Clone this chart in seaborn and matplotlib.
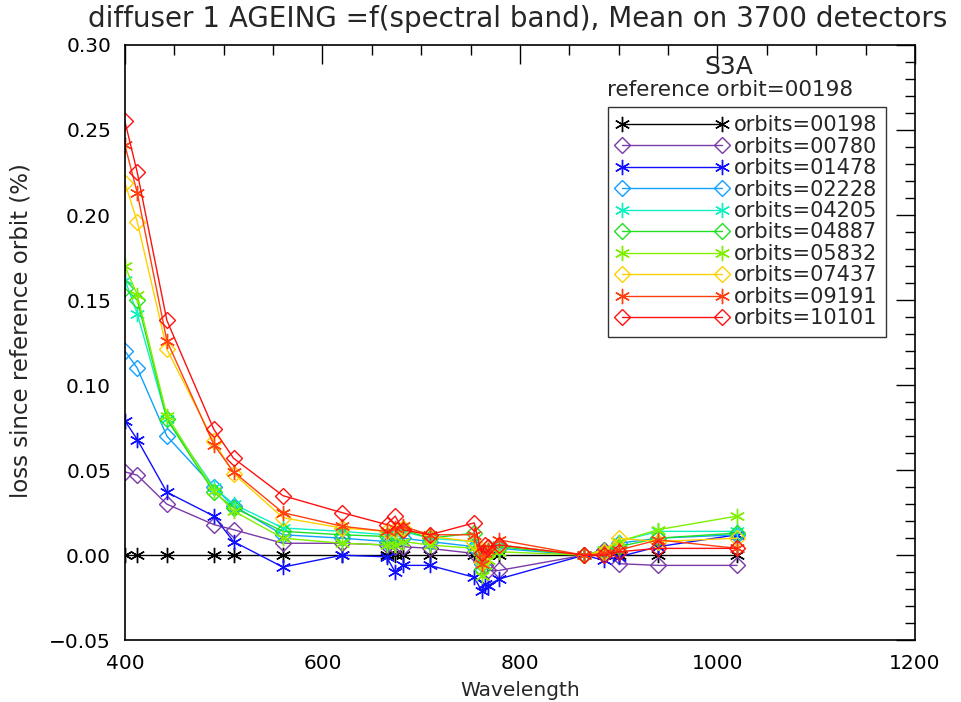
import numpy as np
import pandas as pd
import seaborn as sns
import matplotlib
matplotlib.use("Agg")
import matplotlib.pyplot as plt
from matplotlib.ticker import MultipleLocator, FuncFormatter

wavelengths = [400, 412.5, 442.5, 490, 510, 560, 620, 665, 673.75, 681.25, 708.75,
               753.75, 761.25, 764.375, 767.5, 778.75, 865, 885, 900, 940, 1020]

orbits = ["00198", "00780", "01478", "02228", "04205", "04887", "05832", "07437", "09191", "10101"]

loss_00198 = [0.0] * 21
loss_00780 = [0.049, 0.047, 0.030, 0.018, 0.015, 0.007, 0.007, 0.006, 0.005, 0.005, 0.004,
              0.001, -0.004, -0.006, -0.009, -0.009, 0.0, 0.003, -0.005, -0.006, -0.006]
loss_01478 = [0.079, 0.068, 0.037, 0.023, 0.008, -0.007, 0.0, -0.001, -0.010, -0.006, -0.006,
              -0.013, -0.021, -0.017, -0.018, -0.014, 0.0, -0.003, -0.001, 0.005, 0.012]
loss_02228 = [0.120, 0.110, 0.070, 0.040, 0.029, 0.012, 0.010, 0.008, 0.009, 0.010, 0.008,
              0.005, -0.005, 0.000, 0.002, 0.004, 0.0, 0.002, 0.007, 0.010, 0.012]
loss_04205 = [0.162, 0.142, 0.080, 0.040, 0.030, 0.016, 0.014, 0.012, 0.013, 0.014, 0.010,
              0.008, -0.006, 0.001, 0.003, 0.006, 0.0, 0.003, 0.008, 0.014, 0.014]
loss_04887 = [0.157, 0.150, 0.080, 0.037, 0.028, 0.014, 0.012, 0.011, 0.012, 0.015, 0.010,
              0.013, -0.008, 0.000, 0.002, 0.005, 0.0, 0.002, 0.005, 0.010, 0.013]
loss_05832 = [0.170, 0.153, 0.082, 0.038, 0.026, 0.010, 0.007, 0.006, 0.006, 0.008, 0.006,
              0.004, -0.012, -0.006, -0.003, 0.002, 0.0, 0.003, 0.008, 0.015, 0.023]
loss_07437 = [0.219, 0.196, 0.121, 0.067, 0.048, 0.022, 0.016, 0.014, 0.015, 0.016, 0.011,
              0.008, -0.004, 0.002, 0.004, 0.006, 0.0, 0.002, 0.010, 0.008, 0.010]
loss_09191 = [0.241, 0.213, 0.126, 0.065, 0.049, 0.025, 0.017, 0.014, 0.016, 0.017, 0.012,
              0.012, -0.005, 0.001, 0.003, 0.009, 0.0, 0.001, 0.003, 0.009, 0.004]
loss_10101 = [0.255, 0.225, 0.138, 0.074, 0.057, 0.035, 0.025, 0.018, 0.023, 0.015, 0.012,
              0.019, 0.001, 0.006, 0.005, 0.006, 0.0, 0.000, 0.002, 0.004, 0.004]

series = [loss_00198, loss_00780, loss_01478, loss_02228, loss_04205,
          loss_04887, loss_05832, loss_07437, loss_09191, loss_10101]

colors = ["#000000", "#7a3aa8", "#1010ff", "#10a0ff", "#10f0c0",
          "#20e020", "#80f000", "#ffd000", "#ff4010", "#ff1010"]
asterisk = (6, 2, 0)
markers = [asterisk, "D"] * 5

sns.set_style("white")
plt.rcParams["font.family"] = ["DejaVu Sans"]

fig = plt.figure(figsize=(9.61, 7.02), dpi=100)
ax = fig.add_axes([0.130, 0.088, 0.822, 0.848])

handles = []
for orb, vals, col, mk in zip(orbits, series, colors, markers):
    df = pd.DataFrame({"Wavelength": wavelengths, "loss": vals})
    n_before = len(ax.lines)
    sns.lineplot(data=df, x="Wavelength", y="loss", ax=ax, color=col, lw=1.0,
                 marker=mk, markersize=11 if mk != "D" else 8,
                 markerfacecolor="none" if mk == "D" else col,
                 markeredgecolor=col, markeredgewidth=1.0,
                 sort=False, estimator=None, legend=False)
    line = ax.lines[n_before]
    line.set_label(f"orbits={orb}")
    handles.append(line)

ax.set_xlim(400, 1200)
ax.set_ylim(-0.05, 0.30)
ax.xaxis.set_major_locator(MultipleLocator(200))
ax.xaxis.set_minor_locator(MultipleLocator(50))
ax.yaxis.set_major_locator(MultipleLocator(0.05))
ax.yaxis.set_minor_locator(MultipleLocator(0.01))
ax.yaxis.set_major_formatter(FuncFormatter(lambda v, p: f"{v:.2f}".replace("-", "\u2212")))
ax.tick_params(which="both", direction="in", top=True, right=True, colors="black",
               labelsize=14.5)
ax.tick_params(which="major", length=14, width=1)
ax.tick_params(which="minor", length=7, width=1)
ax.tick_params(axis="x", which="major", pad=10)
ax.tick_params(axis="y", which="major", pad=10)
for s in ax.spines.values():
    s.set_color("black")
    s.set_linewidth(1.2)

ax.set_xlabel("Wavelength", fontsize=14.5, labelpad=6)
ax.set_ylabel("loss since reference orbit (%)", fontsize=16.5)
ax.yaxis.set_label_coords(-0.117, 0.52)
fig.text(0.539, 0.973, "diffuser 1 AGEING =f(spectral band), Mean on 3700 detectors",
         ha="center", va="center", fontsize=20)
ax.text(0.764, 0.963, "S3A", transform=ax.transAxes, ha="center", va="center", fontsize=18)
ax.text(0.766, 0.924, "reference orbit=00198", transform=ax.transAxes, ha="center",
        va="center", fontsize=15.5)

leg = ax.legend(handles=handles, loc="upper right", bbox_to_anchor=(0.963, 0.896),
                numpoints=2, fontsize=15, frameon=True, fancybox=False,
                handlelength=5.4, handletextpad=0.25, labelspacing=0.07,
                borderpad=0.4, borderaxespad=0)
leg.get_frame().set_edgecolor("black")
leg.get_frame().set_linewidth(1.0)

fig.savefig("out.png", dpi=100, facecolor="white")
